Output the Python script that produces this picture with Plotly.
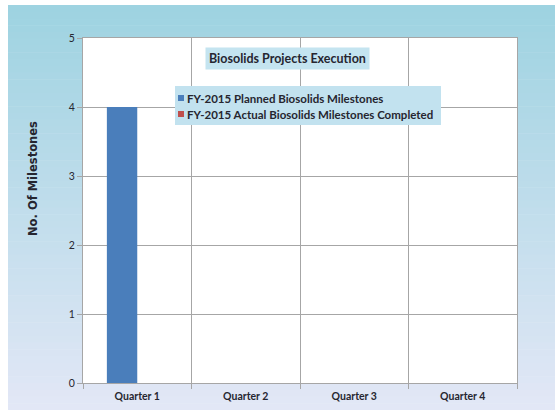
import plotly.graph_objects as go

# ---- data ----
quarters = ["Quarter 1", "Quarter 2", "Quarter 3", "Quarter 4"]
planned_milestones = [4, 0, 0, 0]
actual_milestones = [0, 0, 0, 0]
series_names = ["FY-2015 Planned Biosolids Milestones",
                "FY-2015 Actual Biosolids Milestones Completed"]
series_colors = ["#4a7ebb", "#c0504d"]
chart_title = "Biosolids Projects Execution"
y_title = "No. Of Milestones"
y_ticks = [0, 1, 2, 3, 4, 5]

# ---- geometry (pixels) ----
W, H = 555, 410
PL, PR, PT, PB = 83, 517, 38, 383   # plot-area box


def px2x(px):
    return (px - PL) / (PR - PL)


def px2y(py):
    return (PB - py) / (PB - PT)


TEXT = "Lato, Liberation Sans Narrow, sans-serif"
DARK = "#262630"
GRID = "#a6a6a6"

fig = go.Figure()
for name, vals, col in zip(series_names, [planned_milestones, actual_milestones], series_colors):
    fig.add_trace(go.Bar(x=quarters, y=vals, name=name, marker_color=col,
                         marker_line_width=0, showlegend=False))

shapes = []
# vertical gradient for the chart area (light cyan at top -> pale lavender at bottom)
top_rgb = (158, 211, 225)
bot_rgb = (226, 231, 246)
n = 60
y_top, y_bot = 5, H
for i in range(n):
    t = i / (n - 1)
    c = tuple(round(a + (b - a) * t) for a, b in zip(top_rgb, bot_rgb))
    y0 = y_top + (y_bot - y_top) * i / n
    y1 = y_top + (y_bot - y_top) * (i + 1) / n + 0.6
    shapes.append(dict(type="rect", xref="paper", yref="paper", layer="below",
                       x0=px2x(8), x1=px2x(W + 2), y0=px2y(min(y1, H + 2)), y1=px2y(y0),
                       fillcolor="rgb(%d,%d,%d)" % c, line_width=0))
# white plotting area
shapes.append(dict(type="rect", xref="paper", yref="paper", layer="below",
                   x0=0, x1=1, y0=0, y1=1, fillcolor="white", line_width=0))
# legend box
shapes.append(dict(type="rect", xref="paper", yref="paper", layer="above",
                   x0=px2x(175), x1=px2x(441), y0=px2y(125), y1=px2y(86),
                   fillcolor="#c2e2ef", line_width=0))
legend_rows = [98, 114]
for row, col in zip(legend_rows, series_colors):
    shapes.append(dict(type="rect", xref="paper", yref="paper", layer="above",
                       x0=px2x(178), x1=px2x(184), y0=px2y(row + 3), y1=px2y(row - 3),
                       fillcolor=col, line_width=0))

annotations = [
    dict(text="<b>%s</b>" % chart_title, xref="paper", yref="paper",
         x=px2x(287.5), y=px2y(59), xanchor="center", yanchor="middle",
         showarrow=False, bgcolor="#c4e4f0", borderpad=3,
         font=dict(family=TEXT, size=12.5, color=DARK)),
    dict(text="<b>%s</b>" % y_title, xref="paper", yref="paper", textangle=-90,
         x=px2x(33), y=px2y(179), xanchor="center", yanchor="middle", showarrow=False,
         font=dict(family="DejaVu Sans, sans-serif", size=11.5, color=DARK)),
]
for row, name in zip(legend_rows, series_names):
    annotations.append(dict(text="<b>%s</b>" % name, xref="paper", yref="paper",
                            x=px2x(185), y=px2y(row), xanchor="left", yanchor="middle",
                            showarrow=False,
                            font=dict(family=TEXT, size=11.5, color=DARK)))

fig.update_layout(
    width=W, height=H,
    margin=dict(l=PL, r=W - PR, t=PT, b=H - PB),
    paper_bgcolor="white", plot_bgcolor="white",
    barmode="group", bargap=0.44, bargroupgap=0,
    shapes=shapes, annotations=annotations,
    font=dict(family=TEXT, color=DARK),
)
fig.update_xaxes(type="category", tickson="boundaries", showgrid=True, gridcolor=GRID,
                 gridwidth=1, ticks="outside", ticklen=5, tickcolor=GRID,
                 showline=True, linecolor=GRID, mirror=True, ticklabelstandoff=3,
                 automargin=False,
                 tickfont=dict(family=TEXT, size=10.5, color=DARK),
                 tickprefix="<b>", ticksuffix="</b>")
fig.update_yaxes(range=[0, 5], tickvals=y_ticks, showgrid=True, gridcolor=GRID,
                 gridwidth=1, ticks="outside", ticklen=5, tickcolor=GRID,
                 zeroline=False, showline=True, linecolor=GRID, mirror=True,
                 automargin=False,
                 tickfont=dict(family=TEXT, size=10.5, color=DARK),
                 tickprefix="<b>", ticksuffix="</b>")

fig.write_html("out.html")
